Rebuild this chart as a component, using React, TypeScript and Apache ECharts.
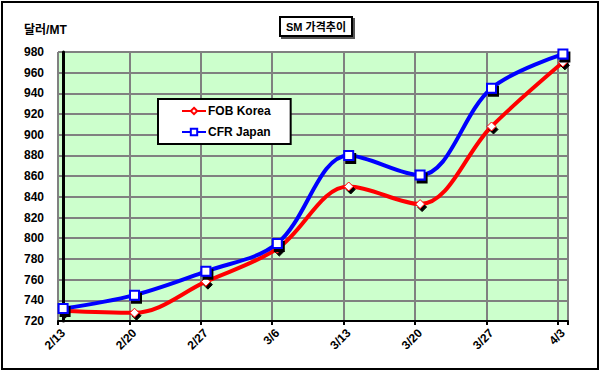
import React, { useEffect, useRef } from "react";
import * as echarts from "echarts";

const dates = ["2/13", "2/20", "2/27", "3/6", "3/13", "3/20", "3/27", "4/3"];
const dayOffsets = [0, 7, 14, 21, 28, 35, 42, 49];
const fobKorea = [730, 728, 758, 790, 850, 833, 908, 970];
const cfrJapan = [732, 745, 768, 795, 880, 861, 945, 978];
const yMin = 720;
const yMax = 980;
const yStep = 20;

const FONT = "'Liberation Sans', Arial, 'Noto Sans CJK KR', sans-serif";

export default function App() {
  const ref = useRef<HTMLDivElement>(null);
  useEffect(() => {
    document.body.style.margin = "0";
    if (!ref.current) return;
    const chart = echarts.init(ref.current, null, { renderer: "svg" });
    const labelMap: Record<string, string> = {};
    dayOffsets.forEach((d, i) => (labelMap[String(d)] = dates[i]));
    const markerShadow = {
      shadowColor: "#000",
      shadowOffsetX: 2,
      shadowOffsetY: 3,
      shadowBlur: 0,
    };
    chart.setOption({
      animation: false,
      backgroundColor: "#fff",
      title: {
        text: "SM 가격추이",
        left: 280,
        top: 17,
        padding: [4, 6, 4, 6],
        borderColor: "#000",
        borderWidth: 2,
        backgroundColor: "#fff",
        shadowColor: "#555",
        shadowOffsetX: 2,
        shadowOffsetY: 2,
        textStyle: {
          fontFamily: FONT,
          fontSize: 11,
          fontWeight: "bold",
          color: "#000",
        },
      },
      legend: {
        orient: "vertical",
        left: 158,
        top: 99,
        width: 131,
        padding: [6, 20, 6, 23],
        itemGap: 9,
        itemWidth: 24,
        itemHeight: 8,
        backgroundColor: "#fff",
        borderColor: "#000",
        borderWidth: 2,
        textStyle: {
          fontFamily: FONT,
          fontSize: 12,
          fontWeight: "bold",
          color: "#000",
          padding: [0, 0, 0, -3],
        },
        data: ["FOB Korea", "CFR Japan"],
      },
      grid: { left: 58, right: 33, top: 52, bottom: 50, show: true, backgroundColor: "#CCFFCC", borderWidth: 0 },
      xAxis: [
        {
          type: "value",
          position: "bottom",
          min: -0.5,
          max: 49.5,
          interval: 0.5,
          axisLine: { show: true, lineStyle: { color: "#000", width: 2 } },
          axisTick: { show: false },
          splitLine: { show: false },
          axisLabel: {
            rotate: 45,
            margin: 10,
            interval: 0,
            fontFamily: FONT,
            fontSize: 12,
            fontWeight: "bold",
            color: "#000",
            formatter: (v: number) => {
              const r = Math.round(v * 10) / 10;
              return Number.isInteger(r) ? labelMap[String(r)] || "" : "";
            },
          },
        },
        {
          type: "value",
          position: "bottom",
          min: 0,
          max: 50,
          interval: 7,
          axisLine: { show: false },
          axisTick: { show: true, length: 4, lineStyle: { color: "#000", width: 2 } },
          axisLabel: { show: false },
          splitLine: { show: true, lineStyle: { color: "#808080", width: 2 } },
        },
      ],
      yAxis: {
        type: "value",
        min: yMin,
        max: yMax,
        interval: yStep,
        axisLine: { show: true, lineStyle: { color: "#000", width: 3 } },
        axisTick: { show: false },
        splitLine: { show: true, lineStyle: { color: "#808080", width: 2 } },
        axisLabel: {
          margin: 14,
          fontFamily: FONT,
          fontSize: 12,
          fontWeight: "bold",
          color: "#000",
        },
      },
      series: [
        {
          name: "FOB Korea",
          type: "line",
          xAxisIndex: 0,
          smooth: 0.35,
          data: dayOffsets.map((d, i) => [d, fobKorea[i]]),
          lineStyle: { color: "#FF0000", width: 4 },
          symbol: "diamond",
          symbolSize: 9,
          itemStyle: { color: "#fff", borderColor: "#FF0000", borderWidth: 1, ...markerShadow },
          color: "#FF0000",
          z: 3,
        },
        {
          name: "CFR Japan",
          type: "line",
          xAxisIndex: 0,
          smooth: 0.35,
          data: dayOffsets.map((d, i) => [d, cfrJapan[i]]),
          lineStyle: { color: "#0000FF", width: 4 },
          symbol: "rect",
          symbolSize: 9,
          itemStyle: { color: "#fff", borderColor: "#0000FF", borderWidth: 2, ...markerShadow },
          color: "#0000FF",
          z: 4,
        },
      ],
      graphic: [
        {
          type: "rect",
          shape: { x: 2, y: 2, width: 596, height: 367 },
          style: { fill: "none", stroke: "#000", lineWidth: 2 },
          silent: true,
        },
        {
          type: "text",
          left: 24,
          top: 24,
          style: {
            text: "달러/MT",
            fontFamily: FONT,
            fontSize: 12,
            fontWeight: "bold",
            fill: "#000",
          },
        },
      ],
    });
    return () => chart.dispose();
  }, []);
  return <div ref={ref} style={{ width: 601, height: 371 }} />;
}
